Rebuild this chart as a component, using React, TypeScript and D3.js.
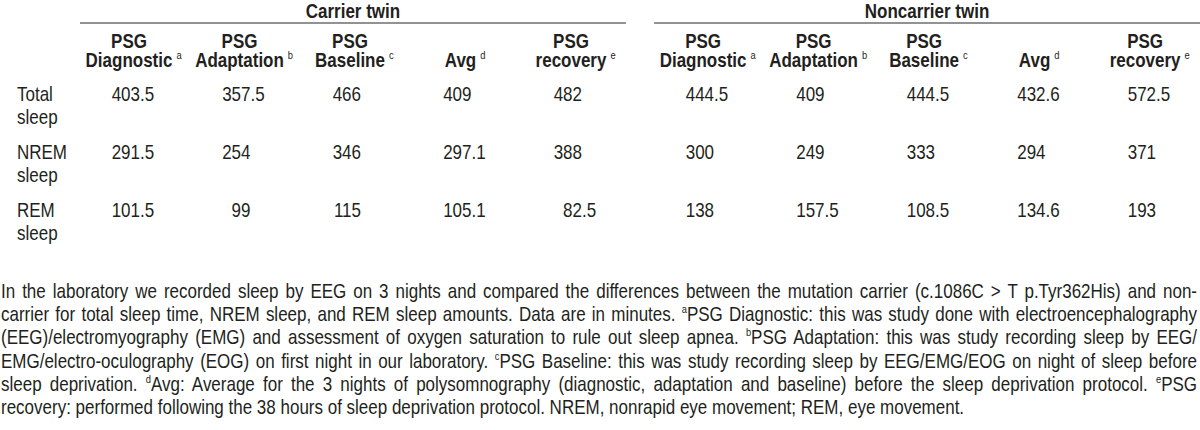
import React, { useEffect, useRef } from "react";
import * as d3 from "d3";

const groups = ["Carrier twin", "Noncarrier twin"];
const columnTop = ["PSG", "PSG", "PSG", "", "PSG"];
const columnMain = ["Diagnostic", "Adaptation", "Baseline", "Avg", "recovery"];
const columnNote = ["a", "b", "c", "d", "e"];
const rowLabels = [
  ["Total", "sleep"],
  ["NREM", "sleep"],
  ["REM", "sleep"],
];
const carrierValues = [
  [403.5, 357.5, 466, 409, 482],
  [291.5, 254, 346, 297.1, 388],
  [101.5, 99, 115, 105.1, 82.5],
];
const noncarrierValues = [
  [444.5, 409, 444.5, 432.6, 572.5],
  [300, 249, 333, 294, 371],
  [138, 157.5, 108.5, 134.6, 193],
];
const captionLines = [
  "In the laboratory we recorded sleep by EEG on 3 nights and compared the differences between the mutation carrier (c.1086C > T p.Tyr362His) and non-",
  "carrier for total sleep time, NREM sleep, and REM sleep amounts. Data are in minutes. ^aPSG Diagnostic: this was study done with electroencephalography",
  "(EEG)/electromyography (EMG) and assessment of oxygen saturation to rule out sleep apnea. ^bPSG Adaptation: this was study recording sleep by EEG/",
  "EMG/electro-oculography (EOG) on first night in our laboratory. ^cPSG Baseline: this was study recording sleep by EEG/EMG/EOG on night of sleep before",
  "sleep deprivation. ^dAvg: Average for the 3 nights of polysomnography (diagnostic, adaptation and baseline) before the sleep deprivation protocol. ^ePSG",
  "recovery: performed following the 38 hours of sleep deprivation protocol. NREM, nonrapid eye movement; REM, eye movement.",
];

const W = 1200;
const H = 430;
const FONT = "'Liberation Sans', Arial, sans-serif";
const INK = "#231f20";
const SX = 0.85; // horizontal condensing to emulate a narrow face

export default function App() {
  const ref = useRef<SVGSVGElement | null>(null);

  useEffect(() => {
    const svg = d3.select(ref.current);
    svg.selectAll("*").remove();
    const g = svg.append("g").attr("font-family", FONT).attr("fill", INK);

    const addText = (x: number, y: number, str: string, size: number, anchor = "start", bold = false) =>
      g
        .append("text")
        .attr("transform", `translate(${x},${y}) scale(${SX},1)`)
        .attr("text-anchor", anchor)
        .attr("font-size", size)
        .attr("font-weight", bold ? "bold" : "normal")
        .text(str);

    const groupX = d3.scaleBand<string>().domain(groups).range([80, W]).paddingInner(0.049).paddingOuter(0);
    const colIdx = d3.range(columnMain.length).map(String);
    const valueSets = [carrierValues, noncarrierValues];

    const rowY = d3.scalePoint<string>().domain(rowLabels.map((_, i) => String(i))).range([101, 217]);
    const lineGap = 23;

    rowLabels.forEach((lbl, i) => {
      lbl.forEach((t, j) => {
        addText(17, rowY(String(i))! + j * lineGap, t, 20);
      });
    });

    groups.forEach((grp, gi) => {
      const x0 = groupX(grp)!;
      const bw = groupX.bandwidth();
      addText(x0 + bw / 2, 18, grp, 20, "middle", true);
      g.append("line")
        .attr("x1", x0)
        .attr("x2", x0 + bw)
        .attr("y1", 23)
        .attr("y2", 23)
        .attr("stroke", "#6d6e71")
        .attr("stroke-width", 1.6);

      const colX = d3.scalePoint<string>().domain(colIdx).range([x0 + 60, x0 + 502]);

      colIdx.forEach((c, ci) => {
        const cx = colX(c)! - 11;
        if (columnTop[ci]) addText(cx, 48, columnTop[ci], 20, "middle", true);
        const word = addText(cx, 67, columnMain[ci], 20, "middle", true);
        const ww = (word.node() as SVGTextElement).getComputedTextLength() * SX;
        addText(cx + ww / 2 + 4, 59, columnNote[ci], 11);

        valueSets[gi].forEach((row, ri) => {
          const s = String(row[ci]);
          const [ip, fp] = s.split(".");
          const y = rowY(String(ri))!;
          const xe = colX(c)!;
          addText(xe, y, ip, 20, "end");
          if (fp !== undefined) addText(xe, y, "." + fp, 20);
        });
      });
    });

    // caption, justified
    const capY = d3.scalePoint<string>().domain(captionLines.map((_, i) => String(i))).range([298, 414]);
    const capLeft = 1;
    const capRight = 1197;
    captionLines.forEach((line, i) => {
      const t = g
        .append("text")
        .attr("transform", `translate(${capLeft},${capY(String(i))}) scale(${SX},1)`)
        .attr("font-size", 20);
      const parts = line.split(/(\^[a-e])/);
      let supPending = false;
      parts.forEach((p) => {
        if (!p) return;
        if (p.startsWith("^")) {
          t.append("tspan").attr("font-size", 11).attr("dy", -8).text(p.slice(1));
          supPending = true;
        } else {
          const ts = t.append("tspan").text(p);
          if (supPending) {
            ts.attr("dy", 8);
            supPending = false;
          }
        }
      });
      if (i < captionLines.length - 1) {
        const natural = (t.node() as SVGTextElement).getComputedTextLength();
        const spaces = (line.match(/ /g) || []).length;
        const target = (capRight - capLeft) / SX;
        t.attr("word-spacing", (target - natural) / spaces);
      }
    });
  }, []);

  return (
    <svg
      ref={ref}
      width={W}
      height={H}
      viewBox={`0 0 ${W} ${H}`}
      style={{ position: "absolute", left: 0, top: 0, background: "#fff" }}
    />
  );
}
